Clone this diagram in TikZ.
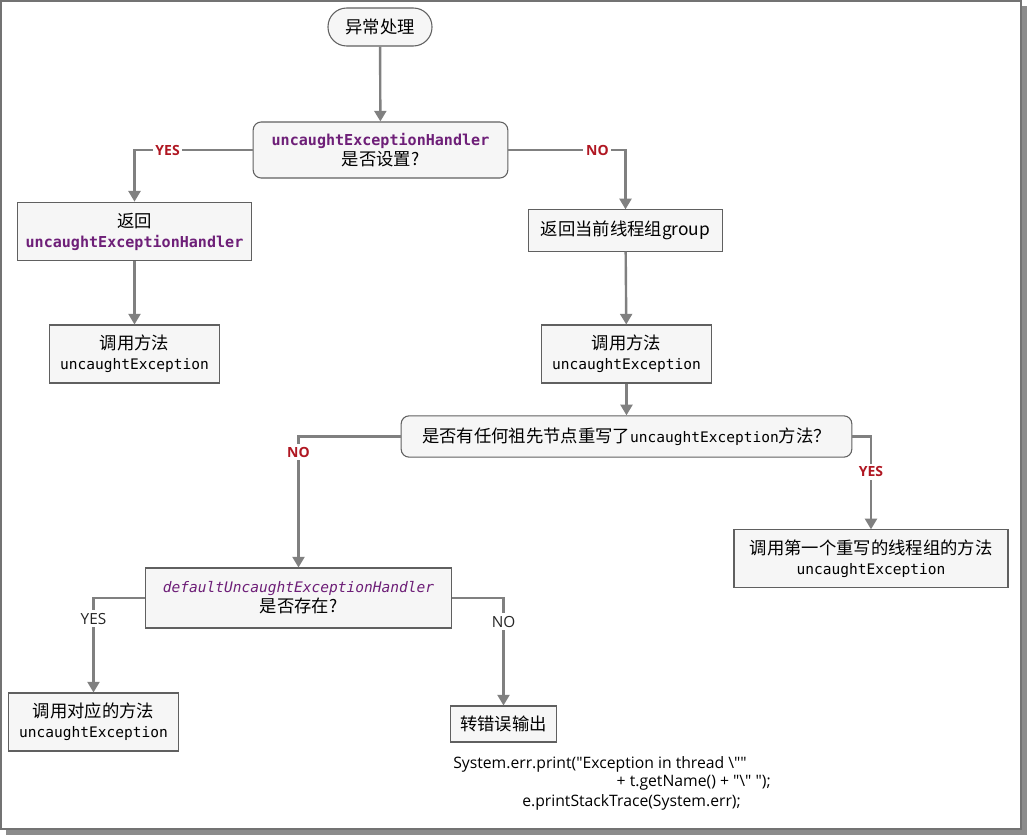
\documentclass[tikz,border=0pt]{standalone}
\usepackage{fontspec}
\setmainfont{Noto Sans CJK SC}
\setmonofont{DejaVu Sans Mono}
\newfontfamily\codefont{Open Sans}
\usetikzlibrary{arrows.meta}
\definecolor{hdlpurple}{HTML}{6E1F78}
\definecolor{lblred}{HTML}{B01722}
\definecolor{linegray}{HTML}{808080}
\definecolor{boxfill}{HTML}{F6F6F6}
\definecolor{boxline}{HTML}{606060}
\newcommand\mth{\ttfamily\fontsize{10.9}{15}\selectfont}
\newcommand\hdl{\ttfamily\fontsize{11.3}{15}\selectfont\bfseries\color{hdlpurple}}
\newcommand\dfl{\mth\itshape\color{hdlpurple}}

\begin{document}
\begin{tikzpicture}[x=0.75pt,y=-0.75pt,
  font=\fontsize{13}{15}\selectfont,
  box/.style={draw=boxline,fill=boxfill,align=center,inner sep=2pt,line width=0.8pt},
  ask/.style={box,rounded corners=6pt},
  conn/.style={draw=linegray,line width=1.8pt,-{Triangle[length=8pt,width=9pt]}},
  yn/.style={fill=white,text=lblred,font=\codefont\bfseries\fontsize{10.5}{12}\selectfont,inner sep=2pt},
  yn2/.style={fill=white,text=black!85,font=\codefont\fontsize{11.5}{12}\selectfont,inner sep=2pt},
  code/.style={font=\codefont\fontsize{11.8}{13}\selectfont,inner sep=0pt}]
  \useasboundingbox (0,0) rectangle (1028,836);
  % frame
  \fill[black!45] (6,829) rectangle (1027,835);
  \fill[black!45] (1021,6) rectangle (1027,835);
  \draw[black!55,line width=0.8pt] (1,1) rectangle (1021,829);

  \node[box,rounded corners=14pt,minimum width=78pt,minimum height=28.5pt] (start) at (380,27) {异常处理};
  \node[ask,minimum width=191pt,minimum height=42pt] (dec1) at (380.5,150)
    {{\hdl uncaughtExceptionHandler}\\是否设置?};
  \node[box,minimum width=175pt,minimum height=44pt] (ret1) at (134.5,231.5)
    {返回\\{\hdl uncaughtExceptionHandler}};
  \node[box,minimum width=127pt,minimum height=43.5pt] (call1) at (134.5,354)
    {调用方法\\{\mth uncaughtException}};
  \node[box,minimum width=146pt,minimum height=31pt] (retgrp) at (625.5,230.5) {返回当前线程组group};
  \node[box,minimum width=128pt,minimum height=43.5pt] (call2) at (626.5,354)
    {调用方法\\{\mth uncaughtException}};
  \node[ask,minimum width=338pt,minimum height=31pt] (dec2) at (626.5,436.5)
    {是否有任何祖先节点重写了{\mth uncaughtException}方法？};
  \node[box,minimum width=205.5pt,minimum height=43pt] (first) at (871,558.5)
    {调用第一个重写的线程组的方法\\{\mth uncaughtException}};
  \node[box,minimum width=229pt,minimum height=45pt] (dec3) at (298.5,598)
    {{\dfl defaultUncaughtExceptionHandler}\\是否存在?};
  \node[box,minimum width=128pt,minimum height=43.5pt] (calldef) at (93.5,722)
    {调用对应的方法\\{\mth uncaughtException}};
  \node[box,minimum width=79pt,minimum height=27pt] (errout) at (503.5,724) {转错误输出};

  \node[code,anchor=west] (code1) at (453,764) {System.err.print("Exception in thread \textbackslash""};
  \node[code,anchor=east] (code2) at (771,783) {+ t.getName() + "\textbackslash" ");};
  \node[code,anchor=west] (code3) at (522,802) {e.printStackTrace(System.err);};

  \draw[conn] (start) -- (dec1);
  \draw[conn] (dec1.west) -| node[yn,pos=.36] {YES} (ret1.north);
  \draw[conn] (dec1.east) -| node[yn,pos=.38] {NO} (retgrp.north);
  \draw[conn] (ret1) -- (call1);
  \draw[conn] (retgrp) -- (call2);
  \draw[conn] (call2) -- (dec2);
  \draw[conn] (dec2.west) -| node[yn,pos=.56] {NO} (dec3.north);
  \draw[conn] (dec2.east) -| node[yn,pos=.69] {YES} (first.north);
  \draw[conn] (dec3.west) -| node[yn2,pos=.61] {YES} (calldef.north);
  \draw[conn] (dec3.east) -| node[yn2,pos=.61] {NO} (errout.north);
\end{tikzpicture}
\end{document}
